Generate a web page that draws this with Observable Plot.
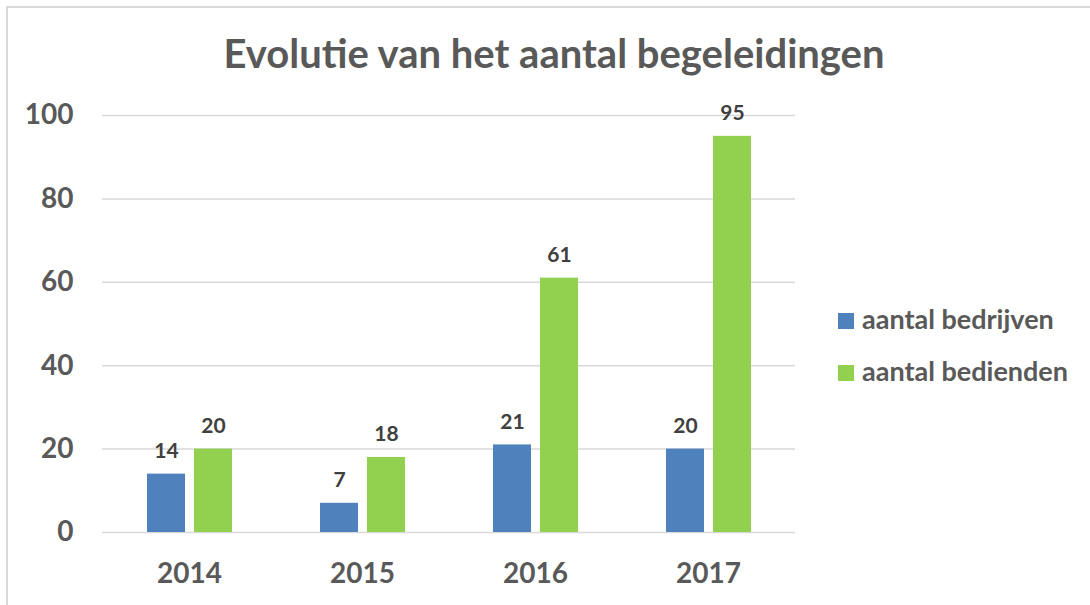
<!DOCTYPE html>
<html><head><meta charset="utf-8">
<script src="https://cdn.jsdelivr.net/npm/d3@7"></script>
<script src="https://cdn.jsdelivr.net/npm/@observablehq/plot@0.6"></script>
<style>
html,body{margin:0;padding:0;background:#fff;overflow:hidden}
#wrap{position:relative;width:1090px;height:605px;font-family:Lato,sans-serif;overflow:hidden}
#border{position:absolute;left:6px;top:6px;width:1200px;height:700px;border-top:2px solid #d9d9d9;border-left:2px solid #d9d9d9}
#grid,#chart{position:absolute;left:0;top:0}
#title{position:absolute;left:0;top:29px;width:1108px;text-align:center;font-size:40px;font-weight:bold;color:#595959;line-height:48px;white-space:nowrap}
.leg{position:absolute;left:838px;font-size:27px;font-weight:bold;color:#595959;line-height:30px;white-space:nowrap}
.leg span.sw{display:inline-block;width:16px;height:16px;margin-right:8px;vertical-align:0px}
</style>
</head><body>
<div id="wrap">
  <div id="border"></div>
  <div id="grid"></div>
  <div id="chart"></div>
  <div id="title"></div>
  <div id="legend"></div>
</div>
<script>
const chartTitle = "Evolutie van het aantal begeleidingen";
const years = ["2014", "2015", "2016", "2017"];
const seriesNames = ["aantal bedrijven", "aantal bedienden"];
const bedrijven = [14, 7, 21, 20];
const bedienden = [20, 18, 61, 95];
const yTicks = [0, 20, 40, 60, 80, 100];
const colors = ["#4F81BD", "#92D050"];

const data = [];
years.forEach((yr, i) => {
  data.push({year: yr, series: seriesNames[0], value: bedrijven[i]});
  data.push({year: yr, series: seriesNames[1], value: bedienden[i]});
});

const frame = {
  width: 1090, height: 605,
  marginLeft: 102, marginRight: 295, marginTop: 115, marginBottom: 73,
  style: {fontFamily: "Lato, sans-serif", background: "transparent", overflow: "visible"}
};

// Gridlines and y axis spanning the whole plot area
const gridPlot = Plot.plot({
  ...frame,
  x: {domain: years, axis: null},
  y: {domain: [0, 100], label: null},
  marks: [
    Plot.ruleY(yTicks, {stroke: "#d9d9d9", strokeWidth: 1.5}),
    Plot.axisY(yTicks, {tickSize: 0, tickPadding: 29, fontSize: 28, fontWeight: "bold", color: "#595959", label: null})
  ]
});
document.getElementById("grid").appendChild(gridPlot);

// Grouped bars
const chart = Plot.plot({
  ...frame,
  fx: {domain: years, paddingInner: 0.4, paddingOuter: 0.2, label: null},
  x: {domain: seriesNames, paddingInner: 0.2, paddingOuter: 0.2, axis: null},
  y: {domain: [0, 100], axis: null},
  color: {domain: seriesNames, range: colors},
  marks: [
    Plot.barY(data, {fx: "year", x: "series", y: "value", fill: "series"}),
    Plot.text(data, {fx: "year", x: "series", y: "value", text: d => String(d.value),
      dy: -16, lineAnchor: "bottom", fontSize: 21, fontWeight: "bold", fill: "#404040"}),
    Plot.axisFx({anchor: "bottom", tickSize: 0, tickPadding: 31, fontSize: 28, fontWeight: "bold", color: "#595959", label: null})
  ]
});
document.getElementById("chart").appendChild(chart);
document.getElementById("title").textContent = chartTitle;

const legend = document.getElementById("legend");
const legTops = [304, 356];
seriesNames.forEach((s, i) => {
  const d = document.createElement("div");
  d.className = "leg";
  d.style.top = legTops[i] + "px";
  const sw = document.createElement("span");
  sw.className = "sw";
  sw.style.background = colors[i];
  d.appendChild(sw);
  d.appendChild(document.createTextNode(s));
  legend.appendChild(d);
});
</script>
</body></html>
